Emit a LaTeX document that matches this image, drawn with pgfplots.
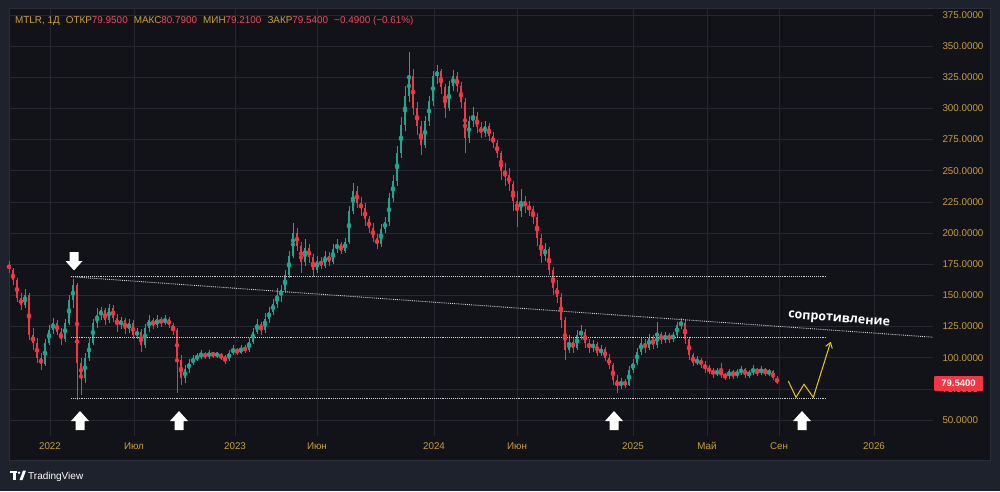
\documentclass[border=0pt]{standalone}
\usepackage{pgfplots}
\pgfplotsset{compat=1.18}
\usepackage{pgfplotstable}
\usepackage{fontspec}
\setmainfont{Liberation Sans}
\newfontfamily\osans{Open Sans}
\usetikzlibrary{arrows.meta}
\definecolor{outerbg}{HTML}{1E222D}
\definecolor{innerbg}{HTML}{121318}
\definecolor{framec}{HTML}{2A2E39}
\definecolor{gridc}{HTML}{25282F}
\definecolor{gold}{HTML}{C9A03A}
\definecolor{redn}{HTML}{F0485A}
\definecolor{upcol}{HTML}{1FA68E}
\definecolor{dncol}{HTML}{F23645}
\definecolor{yel}{HTML}{E8C920}
\definecolor{dotc}{HTML}{CFD2D6}

\pgfplotstableread{
x o h l c
25 142 155 140 150
45 95 115 93 112
49 112 126 110 122
53 122 132 119 128
65 115 131 113 128
69 128 150 126 146
73 146 163 140 158
85 84 104 80 100
89 100 116 97 112
93 112 131 110 128
97 128 140 124 134
101 134 141 130 138
109 130 143 128 140
121 126 133 123 130
129 123 131 120 128
137 118 124 115 121
145 110 127 108 124
149 124 134 121 130
157 126 134 124 131
165 128 134 126 131
185 84 94 80 91
189 91 99 88 96
193 96 102 94 99
197 99 104 97 101
201 101 106 99 103
209 101 106 99 104
217 102 105 100 103
229 99 106 97 104
233 104 110 102 107
241 104 110 103 108
249 106 116 105 113
253 113 124 111 121
257 121 131 119 127
265 122 136 120 131
269 131 141 128 137
273 137 147 134 143
277 143 156 140 150
281 150 158 145 154
285 154 170 152 166
289 166 186 164 182
293 182 208 180 200
305 177 195 174 188
317 170 182 168 178
325 174 186 172 182
333 177 191 175 187
337 187 195 184 191
345 186 196 184 193
349 193 222 191 218
353 218 240 215 234
381 191 207 189 203
385 203 213 200 209
389 209 232 206 228
393 228 247 225 242
397 242 270 238 264
401 264 293 260 287
405 287 318 282 310
409 310 345 305 326
425 271 294 268 290
429 290 310 286 306
433 306 330 302 326
437 326 335 320 330
449 300 322 298 318
453 318 331 314 326
469 276 294 272 290
473 290 301 285 294
485 280 290 277 286
521 218 235 213 226
545 182 192 178 187
569 106 118 104 113
577 108 122 106 118
581 118 126 114 121
593 108 114 105 111
601 104 110 101 107
621 77 84 75 81
629 78 93 77 90
633 90 99 88 96
637 96 108 94 105
641 105 116 102 112
649 108 119 106 116
657 110 129 108 119
665 114 121 112 118
673 115 121 113 118
677 118 129 116 126
681 126 132 123 128
697 96 101 94 98
717 87 92 85 89
729 85 91 83 89
737 86 91 84 88
741 88 93 86 91
749 86 90 84 88
753 88 94 86 91
761 88 93 86 91
769 88 91 85 89
}\uptab

\pgfplotstableread{
x o h l c
9 176 178 168 170
13 170 172 158 162
17 162 164 145 148
21 148 152 138 142
29 150 152 114 118
33 118 124 106 112
37 112 116 96 100
41 100 104 90 95
57 128 130 118 121
61 121 124 110 115
77 158 160 66 96
81 96 100 70 84
105 138 140 126 130
113 140 142 129 132
117 132 135 121 126
125 130 132 119 123
133 128 130 115 118
141 121 123 105 110
153 130 132 123 126
161 131 133 125 128
169 131 133 124 126
173 126 128 118 122
177 122 124 72 98
181 98 102 78 84
205 103 105 99 101
213 104 105 100 102
221 103 104 98 100
225 100 102 95 99
237 107 108 102 104
245 108 110 104 106
261 127 129 118 122
297 200 204 186 190
301 190 193 168 177
309 188 191 176 181
313 181 183 165 170
321 178 181 171 174
329 182 185 174 177
341 191 193 183 186
357 234 238 220 224
361 224 229 214 220
365 220 224 206 211
369 211 214 200 204
373 204 208 193 196
377 196 199 187 191
413 326 332 295 300
417 300 305 279 286
421 286 290 263 271
441 330 332 312 317
445 317 320 292 300
457 326 329 313 318
461 318 321 300 305
465 305 308 264 276
477 294 297 280 285
481 285 289 276 280
489 286 288 274 278
493 278 281 268 272
497 272 275 260 264
501 264 266 243 250
505 250 256 238 247
509 247 252 234 239
513 239 242 218 226
517 226 234 205 218
525 226 230 216 222
529 222 226 214 219
533 219 222 207 213
537 213 216 190 196
541 196 199 176 182
549 187 189 166 170
553 170 173 150 156
557 156 162 144 149
561 149 152 124 130
565 130 133 98 106
573 113 116 104 108
585 121 123 108 112
589 112 115 104 108
597 111 113 101 104
605 107 109 97 100
609 100 103 91 94
613 94 96 78 82
617 82 86 72 77
625 81 83 76 78
645 112 115 104 108
653 116 118 107 110
661 119 121 111 114
669 118 120 112 115
685 128 130 111 115
689 115 117 98 102
693 102 104 93 96
701 98 100 92 95
705 95 97 88 91
709 91 94 87 90
713 90 92 84 87
721 89 96 84 86
725 86 88 82 85
733 89 90 83 86
745 91 92 84 86
757 91 92 85 88
765 91 92 85 88
773 89 90 82 84
777 84 85 79 79.54
}\dntab

\newcommand{\uparr}[1]{\fill[white] (axis cs:#1-4.5,42) -- (axis cs:#1-4.5,49.2) -- (axis cs:#1-9,49.2) -- (axis cs:#1,57.2) -- (axis cs:#1+9,49.2) -- (axis cs:#1+4.5,49.2) -- (axis cs:#1+4.5,42) -- cycle;}

\begin{document}
\begin{tikzpicture}[x=1pt,y=1pt]
\path[use as bounding box] (0,0) rectangle (1000,491);
\fill[outerbg] (0,0) rectangle (1000,491);
\fill[innerbg] (9,31) rectangle (990,483);
\draw[framec, line width=0.8pt] (9,31) rectangle (990,483);

\begin{axis}[at={(9pt,55pt)}, anchor=south west, scale only axis,
  width=924pt, height=428pt,
  xmin=9, xmax=933, ymin=37.2, ymax=380.6,
  axis line style={draw=none}, tick style={draw=none}, major tick length=0pt,
  grid=major, major grid style={gridc, line width=0.7pt},
  xtick={50,134,235,317,434,517,633,707,779,874},
  xticklabels={2022,Июл,2023,Июн,2024,Июн,2025,Май,Сен,2026},
  ytick={50,75,100,125,150,175,200,225,250,275,300,325,350,375},
  yticklabels={50.0000,75.0000,100.0000,125.0000,150.0000,175.0000,200.0000,225.0000,250.0000,275.0000,300.0000,325.0000,350.0000,375.0000},
  yticklabel pos=right,
  tick label style={font=\fontsize{9.8}{11}\selectfont, text=gold},
  xticklabel style={yshift=-3pt},
  yticklabel style={anchor=west, xshift=6pt},
]
% wicks
\addplot[color=upcol, only marks, mark=none, forget plot, error bars/.cd, y dir=both, y explicit, error mark=none,
  error bar style={line width=0.75pt, draw=upcol}]
  table[x=x, y expr=(\thisrow{h}+\thisrow{l})/2, y error expr=(\thisrow{h}-\thisrow{l})/2] {\uptab};
\addplot[color=dncol, only marks, mark=none, forget plot, error bars/.cd, y dir=both, y explicit, error mark=none,
  error bar style={line width=0.75pt, draw=dncol}]
  table[x=x, y expr=(\thisrow{h}+\thisrow{l})/2, y error expr=(\thisrow{h}-\thisrow{l})/2] {\dntab};
% bodies
\addplot[color=upcol, only marks, mark=none, forget plot, error bars/.cd, y dir=both, y explicit, error mark=none,
  error bar style={line width=2.2pt, draw=upcol}]
  table[x=x, y expr=(\thisrow{o}+\thisrow{c})/2, y error expr=(\thisrow{c}-\thisrow{o})/2] {\uptab};
\addplot[color=dncol, only marks, mark=none, forget plot, error bars/.cd, y dir=both, y explicit, error mark=none,
  error bar style={line width=2.2pt, draw=dncol}]
  table[x=x, y expr=(\thisrow{o}+\thisrow{c})/2, y error expr=(\thisrow{o}-\thisrow{c})/2] {\dntab};

% levels
\addplot[dotc, densely dotted, line width=0.9pt] coordinates {(71,165) (826,165)};
\addplot[dotc, densely dotted, line width=0.9pt] coordinates {(71,116.1) (826,116.1)};
\addplot[dotc, densely dotted, line width=0.9pt] coordinates {(71,67.4) (826,67.4)};
\addplot[dotc, densely dotted, line width=0.9pt] coordinates {(71,165) (934,116.4)};
% forecast
\addplot[yel, line width=1pt, -{Straight Barb[length=5pt,width=7pt]}] coordinates {(788.3,81.3) (796,68.2) (804,78.7) (813.3,68.2) (830.7,112.8)};

% arrows
\uparr{80}
\uparr{179}
\uparr{614}
\uparr{802}
\fill[white] (axis cs:69.5,184.8) -- (axis cs:69.5,177.6) -- (axis cs:65.5,177.6) -- (axis cs:74,170.0) -- (axis cs:82.5,177.6) -- (axis cs:78.5,177.6) -- (axis cs:78.5,184.8) -- cycle;
\end{axis}

% title
\node[anchor=base west, inner sep=0pt] at (15,467) {\fontsize{9.9}{11}\selectfont
  \color{gold}MTLR, 1Д\hspace{6pt}ОТКР\color{redn}79.9500\hspace{6pt}\color{gold}МАКС\color{redn}80.7900\hspace{6pt}\color{gold}МИН\color{redn}79.2100\hspace{6pt}\color{gold}ЗАКР\color{redn}79.5400\hspace{6pt}−0.4900 (−0.61\%)};

% resistance text
\node[rotate=-4.5, text=white, inner sep=0pt] at (839,171) {\osans\bfseries\fontsize{12.5}{15}\selectfont сопротивление};

% price box
\fill[dncol, rounded corners=1pt] (934,100) rectangle (983,115);
\node[text=white, inner sep=0pt] at (958.5,107.5) {\fontsize{9.5}{11}\selectfont\bfseries 79.5400};

% logo
\fill[white] (10,18.5) rectangle (17,20.5);
\fill[white] (13,11) rectangle (16,20.5);
\fill[white] (19,18.3) circle (1.3);
\fill[white] (19.5,11) -- (22.5,11) -- (26,20.5) -- (23,20.5) -- cycle;
\node[anchor=base west, inner sep=0pt, text=white] at (28,11.5) {\fontsize{10}{12}\selectfont TradingView};
\end{tikzpicture}
\end{document}
